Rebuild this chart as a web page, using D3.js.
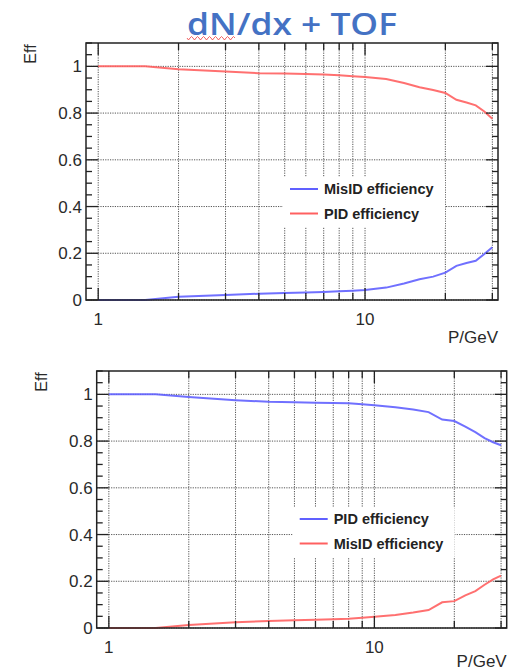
<!DOCTYPE html>
<html>
<head>
<meta charset="utf-8">
<script src="https://cdn.jsdelivr.net/npm/d3@7"></script>
<style>
  body { margin: 0; background: #fff; }
  svg { display: block; }
</style>
</head>
<body>
<svg width="516" height="671"></svg>
<script>
// momentum points (GeV) and efficiencies
const momentum = [1, 1.5, 2, 3, 4, 5, 6, 7, 8, 9, 10, 12, 14, 16, 18, 20, 22, 24, 26, 28, 30];
const topPID = [1.0, 1.0, 0.988, 0.978, 0.971, 0.969, 0.967, 0.965, 0.962, 0.958, 0.954, 0.946, 0.929, 0.911, 0.899, 0.886, 0.857, 0.845, 0.833, 0.807, 0.776];
const topMisID = [0, 0, 0.014, 0.021, 0.027, 0.03, 0.032, 0.034, 0.037, 0.04, 0.043, 0.053, 0.071, 0.089, 0.1, 0.117, 0.146, 0.158, 0.168, 0.197, 0.226];
const bottomPID = [1.0, 1.0, 0.989, 0.975, 0.968, 0.966, 0.964, 0.963, 0.962, 0.958, 0.953, 0.945, 0.935, 0.924, 0.892, 0.886, 0.862, 0.838, 0.813, 0.795, 0.782];
const bottomMisID = [0, 0, 0.013, 0.025, 0.03, 0.033, 0.035, 0.037, 0.04, 0.044, 0.048, 0.056, 0.066, 0.077, 0.11, 0.115, 0.14, 0.158, 0.185, 0.208, 0.224];

const yMajor = [0, 0.2, 0.4, 0.6, 0.8, 1];
const yMinor = d3.range(0, 1.1001, 0.05);
const xGrid = [1, 2, 3, 4, 5, 6, 7, 8, 9, 10, 20, 30];
const xLabels = [1, 10];

const blue = '#6060ff';
const red = '#ff6060';

const svg = d3.select('svg');

// title
svg.append('text')
    .attr('x', 187)
    .attr('y', 35)
    .attr('textLength', 210)
    .attr('lengthAdjust', 'spacingAndGlyphs')
    .attr('font-family', 'Open Sans, sans-serif')
    .attr('font-weight', 600)
    .attr('font-size', 31)
    .attr('fill', '#4472c4')
    .text('dN/dx + TOF');

// spell-check squiggle under "dN"
let wave = 'M187,38';
for (let x = 187; x < 233; x += 3) wave += ` L${x + 1.5},${x % 6 === 1 ? 40 : 36.5} L${x + 3},38`;
svg.append('path')
    .attr('d', wave)
    .attr('fill', 'none')
    .attr('stroke', '#f04040')
    .attr('stroke-width', 0.8);

function drawPanel(p) {
    const x = d3.scaleLog().domain([0.9, 31.5]).range([p.left, p.right]);
    const y = d3.scaleLinear().domain([0, 1.1]).range([p.bottom, p.top]);
    const g = svg.append('g');

    // grid
    g.selectAll('.gx').data(xGrid).join('line')
        .attr('x1', d => x(d)).attr('x2', d => x(d))
        .attr('y1', p.top).attr('y2', p.bottom)
        .attr('stroke', '#555').attr('stroke-width', 1)
        .attr('stroke-dasharray', '1.2,1.2');
    g.selectAll('.gy').data(yMajor).join('line')
        .attr('x1', p.left).attr('x2', p.right)
        .attr('y1', d => y(d)).attr('y2', d => y(d))
        .attr('stroke', '#555').attr('stroke-width', 1)
        .attr('stroke-dasharray', '1.2,1.2');

    // legend box hides the grid
    const lx = p.left + p.legX, ly = p.top + p.legY;
    g.append('rect')
        .attr('x', lx).attr('y', ly)
        .attr('width', 162).attr('height', 50)
        .attr('fill', '#fff');
    p.legend.forEach((item, i) => {
        const cy = ly + 12 + i * 24.5;
        g.append('line')
            .attr('x1', lx + 7).attr('x2', lx + 35)
            .attr('y1', cy).attr('y2', cy)
            .attr('stroke', item.color).attr('stroke-width', 2);
        g.append('text')
            .attr('x', lx + 41).attr('y', cy + 5)
            .attr('font-family', 'Liberation Sans, Arial, sans-serif')
            .attr('font-weight', 'bold')
            .attr('font-size', 14.5)
            .attr('fill', '#222')
            .text(item.label);
    });

    // curves
    const line = d3.line()
        .x((d, i) => x(momentum[i]))
        .y(d => y(d));
    p.series.forEach(s => {
        g.append('path')
            .attr('d', line(s.values))
            .attr('fill', 'none')
            .attr('stroke', s.color)
            .attr('stroke-width', 2)
            .attr('stroke-opacity', 0.9);
    });

    // ticks on all four sides
    const tick = (x1, y1, x2, y2) => g.append('line')
        .attr('x1', x1).attr('y1', y1).attr('x2', x2).attr('y2', y2)
        .attr('stroke', '#222').attr('stroke-width', 1.3);
    yMinor.forEach(v => {
        const major = Math.abs(v * 5 - Math.round(v * 5)) < 1e-6;
        const len = major ? 12 : 6;
        tick(p.left, y(v), p.left + len, y(v));
        tick(p.right, y(v), p.right - len, y(v));
    });
    xGrid.forEach(v => {
        const len = (v === 1 || v === 10) ? 12 : 7;
        tick(x(v), p.bottom, x(v), p.bottom - len);
        tick(x(v), p.top, x(v), p.top + len);
    });

    // frame
    g.append('rect')
        .attr('x', p.left).attr('y', p.top)
        .attr('width', p.right - p.left).attr('height', p.bottom - p.top)
        .attr('fill', 'none').attr('stroke', '#222').attr('stroke-width', 1.5);

    const font = 'Liberation Sans, Arial, sans-serif';
    // y labels
    g.selectAll('.yl').data(yMajor).join('text')
        .attr('x', p.left - 4)
        .attr('y', d => y(d) + 6)
        .attr('text-anchor', 'end')
        .attr('font-family', font).attr('font-size', 17).attr('fill', '#2a2a2a')
        .text(d => d3.format('~g')(d));
    // x labels
    g.selectAll('.xl').data(xLabels).join('text')
        .attr('x', d => x(d))
        .attr('y', p.bottom + 25)
        .attr('text-anchor', 'middle')
        .attr('font-family', font).attr('font-size', 17).attr('fill', '#2a2a2a')
        .text(d => d);
    // axis titles
    g.append('text')
        .attr('x', p.right)
        .attr('y', p.bottom + p.titleDy)
        .attr('text-anchor', 'end')
        .attr('font-family', font).attr('font-size', 17).attr('fill', '#2a2a2a')
        .text('P/GeV');
    g.append('text')
        .attr('transform', `translate(${p.left - 50},${p.top + 11}) rotate(-90)`)
        .attr('text-anchor', 'middle')
        .attr('font-family', font).attr('font-size', 16).attr('fill', '#2a2a2a')
        .text('Eff');
}

drawPanel({
    left: 86, right: 498, top: 43, bottom: 300,
    legX: 197, legY: 134, titleDy: 43,
    series: [
        { values: topPID, color: red },
        { values: topMisID, color: blue }
    ],
    legend: [
        { label: 'MisID efficiency', color: blue },
        { label: 'PID efficiency', color: red }
    ]
});

drawPanel({
    left: 96.7, right: 506.7, top: 371, bottom: 628,
    legX: 196, legY: 136, titleDy: 39,
    series: [
        { values: bottomPID, color: blue },
        { values: bottomMisID, color: red }
    ],
    legend: [
        { label: 'PID efficiency', color: blue },
        { label: 'MisID efficiency', color: red }
    ]
});
</script>
</body>
</html>
